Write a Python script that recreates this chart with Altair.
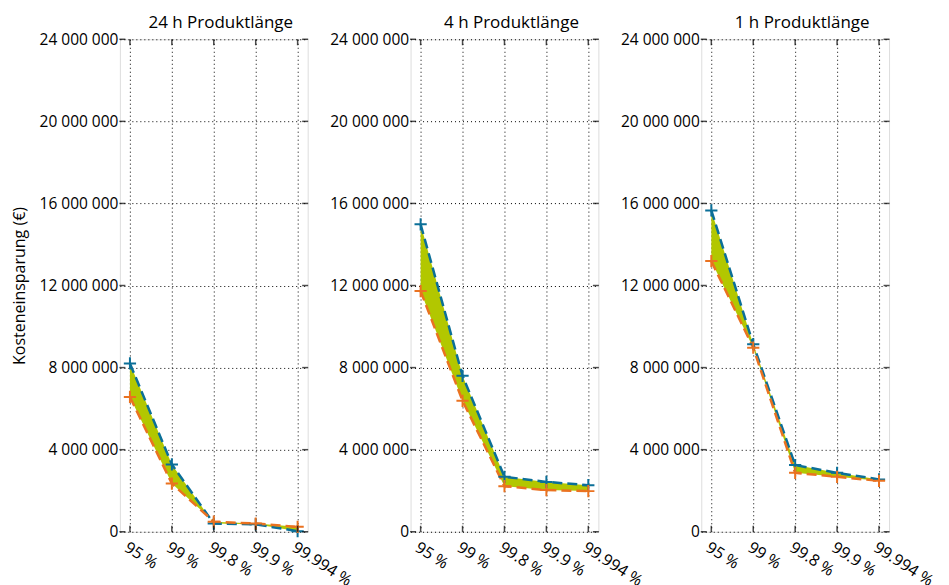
import altair as alt
import pandas as pd

levels = ["95 %", "99 %", "99.8 %", "99.9 %", "99.994 %"]
panel_titles = ["24 h Produktlänge", "4 h Produktlänge", "1 h Produktlänge"]
blue_24h = [8.20e6, 3.28e6, 0.40e6, 0.36e6, 0.03e6]
orange_24h = [6.57e6, 2.35e6, 0.49e6, 0.40e6, 0.24e6]
blue_4h = [14.98e6, 7.60e6, 2.68e6, 2.43e6, 2.27e6]
orange_4h = [11.73e6, 6.38e6, 2.22e6, 2.03e6, 1.98e6]
blue_1h = [15.66e6, 9.14e6, 3.25e6, 2.87e6, 2.55e6]
orange_1h = [13.19e6, 8.97e6, 2.87e6, 2.68e6, 2.48e6]
y_ticks = [0, 4e6, 8e6, 12e6, 16e6, 20e6, 24e6]
y_title = "Kosteneinsparung  (€)"

BLUE = "#0b6f98"
ORANGE = "#ea7220"
FILL = "#b2c700"
FONT = "Open Sans"
W, H = 188, 493
PLUS = "M-1,0L1,0M0,-1L0,1"
LABEL_EXPR = "replace(replace(format(datum.value, ','), ',', ' '), ',', ' ')"


def panel(title, blue, orange, first):
    df = pd.DataFrame({"level": levels, "blue": blue, "orange": orange})
    ticks_df = pd.DataFrame({"v": y_ticks})
    xs = alt.Scale(type="point", padding=0.24)
    ys = alt.Scale(domain=[0, 24e6], nice=False, zero=True)
    x = alt.X(
        "level:N", sort=levels, scale=xs,
        axis=alt.Axis(
            title=None, labelAngle=33, labelAlign="left", labelBaseline="top",
            labelFontSize=16, labelPadding=7, ticks=False, domain=False,
            grid=True, gridDash=[1, 3], gridColor="black", gridOpacity=1, gridWidth=1,
            labelColor="black",
        ),
    )
    yaxis = alt.Axis(
        values=y_ticks, labelExpr=LABEL_EXPR, labelFontSize=15.5, labelPadding=2,
        ticks=False, domain=False, grid=True, gridDash=[1, 3], gridColor="black",
        gridOpacity=1, gridWidth=1, labelColor="black",
        title=y_title if first else None, titleFontSize=16, titleFontWeight="normal",
        titlePadding=12, titleColor="black",
    )
    base = alt.Chart(df)
    area = base.mark_area(color=FILL, opacity=1).encode(
        x=x, y=alt.Y("blue:Q", scale=ys, axis=yaxis), y2="orange:Q"
    )
    line_b = base.mark_line(color=BLUE, strokeDash=[10, 5], strokeWidth=2.5).encode(
        x=x, y=alt.Y("blue:Q", scale=ys)
    )
    line_o = base.mark_line(color=ORANGE, strokeDash=[10, 5], strokeWidth=2.5).encode(
        x=x, y=alt.Y("orange:Q", scale=ys)
    )
    pts_b = base.mark_point(shape=PLUS, filled=False, color=BLUE, strokeWidth=2, size=150, opacity=1).encode(
        x=x, y=alt.Y("blue:Q", scale=ys)
    )
    pts_o = base.mark_point(shape=PLUS, filled=False, color=ORANGE, strokeWidth=2, size=150, opacity=1).encode(
        x=x, y=alt.Y("orange:Q", scale=ys)
    )
    tick_l = alt.Chart(ticks_df).mark_tick(orient="horizontal", size=6, thickness=1.5, color="black").encode(
        y=alt.Y("v:Q", scale=ys), x=alt.value(2.5)
    )
    tick_r = alt.Chart(ticks_df).mark_tick(orient="horizontal", size=6, thickness=1.5, color="black").encode(
        y=alt.Y("v:Q", scale=ys), x=alt.value(W - 2.5)
    )
    tick_b = base.mark_tick(orient="vertical", size=6, thickness=1.5, color="black").encode(
        x=x, y=alt.value(H - 3)
    )
    tick_t = base.mark_tick(orient="vertical", size=6, thickness=1.5, color="black").encode(
        x=x, y=alt.value(3)
    )
    return alt.layer(area, line_b, line_o, pts_b, pts_o, tick_l, tick_r, tick_b, tick_t).properties(
        width=W, height=H,
        title=alt.TitleParams(title, fontSize=17, fontWeight="normal", offset=0, dx=7,
                              color="black", font=FONT),
    )


chart = alt.hconcat(
    panel(panel_titles[0], blue_24h, orange_24h, True),
    panel(panel_titles[1], blue_4h, orange_4h, False),
    panel(panel_titles[2], blue_1h, orange_1h, False),
    spacing=103, bounds="flush",
).properties(
    padding={"left": 2, "top": 5, "right": 5, "bottom": 5}
).configure_view(stroke="black", strokeWidth=1.5).configure(font=FONT)

chart.save("out.html", embed_options={"renderer": "svg", "actions": False})
